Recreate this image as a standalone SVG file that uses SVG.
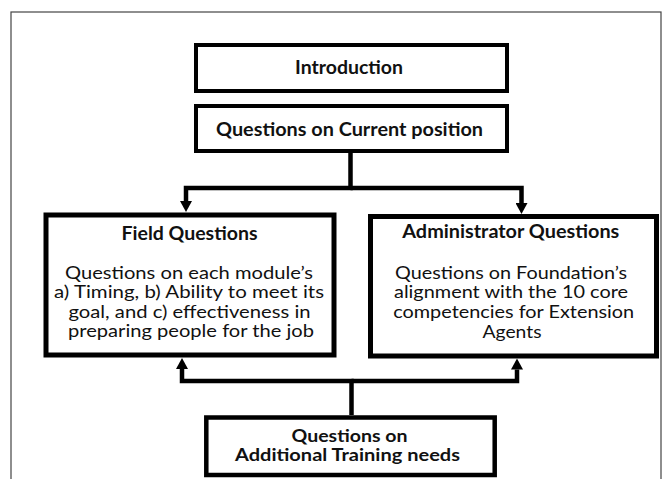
<svg xmlns="http://www.w3.org/2000/svg" width="672" height="479" viewBox="0 0 672 479">
<style>
.frame{fill:none;stroke:#444;stroke-width:1.2}
.box{fill:#fff;stroke:#000}
.t{font-family:Lato,"Liberation Sans",sans-serif;fill:#111;text-anchor:middle}
.h{font-weight:bold;font-size:18.5px}
.h2{font-weight:bold;font-size:16.5px}
.b{font-size:16.5px}
.c{fill:none;stroke:#000;stroke-width:4.5;stroke-linejoin:miter}
</style>
<defs>
<marker id="ah" markerUnits="userSpaceOnUse" markerWidth="12" markerHeight="12" viewBox="0 0 12 12" refX="0" refY="6" orient="auto">
<path d="M0,0 L11,6 L0,12 Z" fill="#000"/>
</marker>
</defs>
<rect class="frame" x="11" y="12" width="650" height="480"/>
<g id="connectors">
<path class="c" d="M350.5,151 V188 H186 V201" marker-end="url(#ah)"/>
<path class="c" d="M350.5,188 H521.5 V203" marker-end="url(#ah)"/>
<path class="c" d="M351.5,415 V381 H182 V369" marker-end="url(#ah)"/>
<path class="c" d="M351.5,381 H517 V369.5" marker-end="url(#ah)"/>
</g>
<g id="introduction">
<rect class="box" x="196" y="45" width="311" height="46" stroke-width="4"/>
<text class="t h" x="349" y="74.3" textLength="108" lengthAdjust="spacingAndGlyphs">Introduction</text>
</g>
<g id="current-position">
<rect class="box" x="196" y="106" width="311" height="45" stroke-width="4"/>
<text class="t h" x="349.5" y="136" textLength="267" lengthAdjust="spacingAndGlyphs">Questions on Current position</text>
</g>
<g id="field-questions">
<rect class="box" x="46" y="215" width="288" height="140" stroke-width="5"/>
<text class="t h" x="189.5" y="240" textLength="136" lengthAdjust="spacingAndGlyphs">Field Questions</text>
<text class="t b" x="189" y="279.3" textLength="248" lengthAdjust="spacingAndGlyphs">Questions on each module’s</text>
<text class="t b" x="189" y="298.3" textLength="270" lengthAdjust="spacingAndGlyphs">a) Timing, b) Ability to meet its</text>
<text class="t b" x="189.5" y="317.7" textLength="242" lengthAdjust="spacingAndGlyphs">goal, and c) effectiveness in</text>
<text class="t b" x="191" y="336.5" textLength="246" lengthAdjust="spacingAndGlyphs">preparing people for the job</text>
</g>
<g id="administrator-questions">
<rect class="box" x="370.5" y="216.5" width="286" height="139.5" stroke-width="5"/>
<text class="t h" x="510.8" y="238.3" textLength="217" lengthAdjust="spacingAndGlyphs">Administrator Questions</text>
<text class="t b" x="511" y="279.3" textLength="232" lengthAdjust="spacingAndGlyphs">Questions on Foundation’s</text>
<text class="t b" x="511" y="298.3" textLength="234" lengthAdjust="spacingAndGlyphs">alignment with the 10 core</text>
<text class="t b" x="513.7" y="317.5" textLength="241" lengthAdjust="spacingAndGlyphs">competencies for Extension</text>
<text class="t b" x="512" y="337.7" textLength="59" lengthAdjust="spacingAndGlyphs">Agents</text>
</g>
<g id="additional-training">
<rect class="box" x="206.3" y="417.5" width="288.4" height="57.5" stroke-width="4.5"/>
<text class="t h2" x="349.5" y="441.7" textLength="116" lengthAdjust="spacingAndGlyphs">Questions on</text>
<text class="t h2" x="347.5" y="461" textLength="225" lengthAdjust="spacingAndGlyphs">Additional Training needs</text>
</g>
</svg>
